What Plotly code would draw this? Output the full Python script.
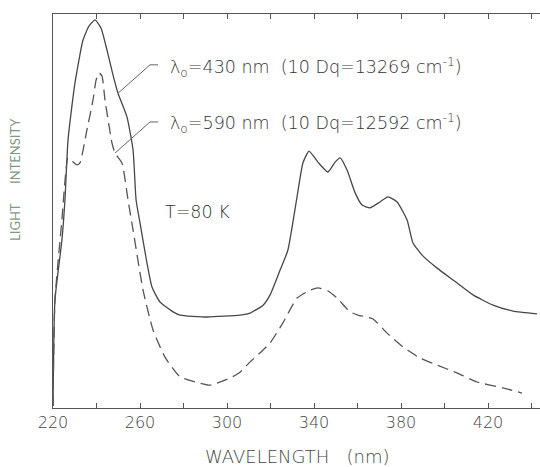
import plotly.graph_objects as go

# Emission spectra at T = 80 K (relative light intensity vs wavelength)
wl_430 = [220.0, 220.9, 224.1, 225.5, 226.9, 230.1, 233.8, 236.6, 239.3, 242.1,
          244.8, 247.6, 249.9, 254.0, 256.8, 258.2, 260.0, 263.2, 265.5, 269.2,
          275.2, 278.4, 290.8, 306.0, 310.6, 316.6, 319.8, 324.4, 328.0, 332.2,
          334.9, 337.7, 341.8, 346.4, 349.7, 352.0, 355.2, 358.9, 362.1, 365.7,
          370.3, 374.0, 378.2, 382.8, 385.5, 389.7, 396.6, 403.9, 413.1, 422.3,
          431.5, 442.5]
int_430 = [0.5, 27.4, 42.6, 52.8, 68.0, 82.5, 93.4, 97.0, 98.5, 96.4,
           90.9, 84.5, 79.9, 73.9, 65.5, 52.8, 47.0, 36.8, 30.7, 26.9,
           24.4, 23.6, 23.1, 23.6, 24.1, 26.1, 28.7, 35.0, 40.1, 53.6,
           62.2, 65.2, 62.4, 59.9, 62.4, 63.5, 60.4, 54.6, 51.5, 50.8,
           52.3, 53.6, 52.3, 47.7, 41.9, 38.8, 35.5, 32.5, 28.7, 26.1,
           24.6, 23.9]

wl_590 = [220.0, 220.9, 224.1, 226.9, 228.7, 231.0, 232.4, 235.6, 238.4, 239.8,
          241.1, 242.5, 243.9, 247.1, 248.5, 251.7, 254.5, 256.8, 261.4, 266.0,
          271.5, 278.4, 287.6, 292.2, 301.4, 306.0, 310.6, 315.2, 319.8, 325.7,
          332.2, 338.2, 341.8, 346.4, 350.6, 356.6, 360.2, 367.1, 373.6, 380.9,
          388.7, 396.6, 405.7, 414.9, 426.9, 435.6]
int_590 = [0.5, 27.4, 47.7, 63.5, 62.7, 61.7, 62.2, 70.6, 78.2, 83.2,
           85.0, 84.3, 78.2, 67.3, 64.7, 62.2, 52.8, 45.2, 29.9, 19.8,
           12.9, 7.9, 6.3, 5.8, 7.6, 9.1, 11.7, 14.0, 16.5, 21.6,
           27.9, 29.9, 30.5, 29.7, 27.9, 24.4, 23.6, 22.6, 19.0, 15.5,
           12.7, 10.9, 8.9, 6.6, 5.1, 3.8]

label_430 = "λ<sub>o</sub>=430 nm\u00a0\u00a0(10 Dq=13269 cm<sup>-1</sup>)"
label_590 = "λ<sub>o</sub>=590 nm\u00a0\u00a0(10 Dq=12592 cm<sup>-1</sup>)"
label_temp = "T=80 K"
x_title = "WAVELENGTH\u00a0\u00a0\u00a0(nm)"
y_title = "LIGHT\u00a0\u00a0\u00a0\u00a0\u00a0\u00a0INTENSITY"

# leader lines: curve point -> elbow -> end near label
leader_430 = [(249.9, 79.9), (264.6, 87.1), (268.3, 87.1)]
leader_590 = [(248.5, 64.7), (264.6, 72.6), (268.3, 72.6)]

x_ticks = [220, 260, 300, 340, 380, 420]

FONT = "'DejaVu Sans', 'Noto Sans', sans-serif"
INK = "#474747"

fig = go.Figure()
fig.add_trace(go.Scatter(x=wl_430, y=int_430, mode="lines",
                         line=dict(color=INK, width=1.3, shape="spline", smoothing=0.5),
                         showlegend=False, hoverinfo="skip"))
fig.add_trace(go.Scatter(x=wl_590, y=int_590, mode="lines",
                         line=dict(color="#555555", width=1.3, dash="11px,6px",
                                   shape="spline", smoothing=0.5),
                         showlegend=False, hoverinfo="skip"))

for pts in (leader_430, leader_590):
    path = "M " + " L ".join(f"{x},{y}" for x, y in pts)
    fig.add_shape(type="path", path=path, xref="x", yref="y",
                  line=dict(color="#666666", width=1))

label_font = dict(family=FONT, size=17.5, color="#333333", weight=200)
fig.add_annotation(x=272.9, y=86.3, text=label_430, showarrow=False,
                   xanchor="left", yanchor="middle", font=label_font)
fig.add_annotation(x=272.9, y=72.3, text=label_590, showarrow=False,
                   xanchor="left", yanchor="middle", font=label_font)
fig.add_annotation(x=270.6, y=49.7, text=label_temp, showarrow=False,
                   xanchor="left", yanchor="middle", font=label_font)

# axis titles placed in paper coordinates
fig.add_annotation(x=0.503, y=-0.122, xref="paper", yref="paper", text=x_title,
                   showarrow=False, xanchor="center", yanchor="middle", borderpad=0,
                   font=dict(family=FONT, size=18, color="#3f4a42", weight=200))
fig.add_annotation(x=-0.078, y=0.579, xref="paper", yref="paper", text=y_title,
                   showarrow=False, xanchor="center", yanchor="middle", textangle=-90,
                   font=dict(family="Lato, sans-serif", size=13, color="#7f9a84"))

fig.update_layout(
    width=540, height=467,
    margin=dict(l=53, r=0, t=14, b=59),
    paper_bgcolor="white", plot_bgcolor="white",
    font=dict(family=FONT, color="#555555"),
)
fig.update_xaxes(
    range=[220, 443.9], showgrid=False, zeroline=False,
    showline=True, linecolor="#555555", linewidth=1.2, mirror="ticks",
    tickvals=x_ticks, ticktext=[str(v) for v in x_ticks],
    ticks="inside", ticklen=5, tickcolor="#555555",
    minor=dict(dtick=20, tick0=220, ticks="inside", ticklen=5, tickcolor="#555555"),
    tickfont=dict(family=FONT, size=16, color="#444444", weight=200),
)
fig.update_yaxes(
    range=[0, 100], showgrid=False, zeroline=False,
    showline=True, linecolor="#555555", linewidth=1.2,
    showticklabels=False, ticks="",
)

fig.write_html("out.html")
